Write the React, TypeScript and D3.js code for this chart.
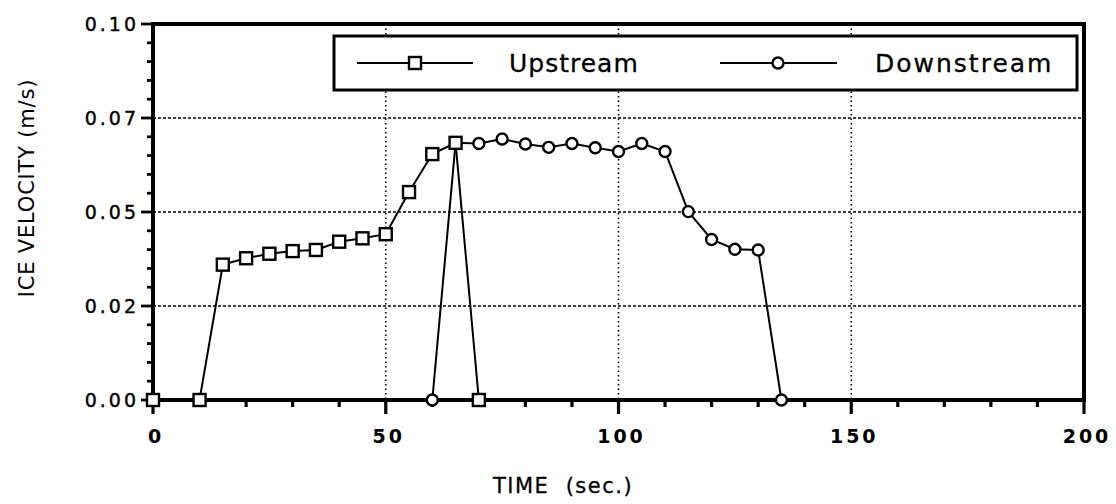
import React, { useEffect, useRef } from "react";
import * as d3 from "d3";

// time in seconds, velocity in m/s
const upTime = [0, 10, 15, 20, 25, 30, 35, 40, 45, 50, 55, 60, 65, 70];
const upVel = [0, 0, 0.036, 0.0377, 0.0389, 0.0396, 0.0399, 0.0421, 0.043, 0.0441, 0.0553, 0.0654, 0.0684, 0];

const downTime = [60, 65, 70, 75, 80, 85, 90, 95, 100, 105, 110, 115, 120, 125, 130, 135];
const downVel = [0, 0.0684, 0.0682, 0.0694, 0.0681, 0.0672, 0.0682, 0.0671, 0.0661, 0.0682, 0.0661, 0.0501, 0.0427, 0.0401, 0.0399, 0];

const xTicks = [0, 50, 100, 150, 200];
const yTicks = [0, 0.025, 0.05, 0.075, 0.1];
const yTickLabels = ["0.00", "0.02", "0.05", "0.07", "0.10"];

const FONT = "'DejaVu Sans', sans-serif";

const App = () => {
  const ref = useRef<SVGSVGElement>(null);

  useEffect(() => {
    const svg = d3.select(ref.current);
    svg.selectAll("*").remove();

    const left = 153, right = 1084, top = 24, bottom = 400;

    const x = d3.scaleLinear().domain([0, 200]).range([left, right]);
    const y = d3.scaleLinear().domain([0, 0.1]).range([bottom, top]);

    // grid lines
    svg
      .selectAll(".hgrid")
      .data(yTicks.filter((d) => d > 0 && d < 0.1))
      .enter()
      .append("line")
      .attr("x1", left)
      .attr("x2", right)
      .attr("y1", (d) => y(d))
      .attr("y2", (d) => y(d))
      .attr("stroke", "#000")
      .attr("stroke-width", 1.4)
      .attr("stroke-dasharray", "3,2");

    svg
      .selectAll(".vgrid")
      .data(xTicks.filter((d) => d > 0 && d < 200))
      .enter()
      .append("line")
      .attr("x1", (d) => x(d))
      .attr("x2", (d) => x(d))
      .attr("y1", top)
      .attr("y2", bottom)
      .attr("stroke", "#000")
      .attr("stroke-width", 1.6)
      .attr("stroke-dasharray", "1.5,3");

    // ticks
    const yMinor = d3.range(0, 0.1001, 0.005);
    svg
      .selectAll(".ytick")
      .data(yMinor)
      .enter()
      .append("line")
      .attr("x1", left)
      .attr("x2", (d, i) => (i % 5 === 0 ? left - 12 : left - 6))
      .attr("y1", (d) => y(d))
      .attr("y2", (d) => y(d))
      .attr("stroke", "#000")
      .attr("stroke-width", 2.8);

    const xMinor = d3.range(0, 201, 10);
    svg
      .selectAll(".xtick")
      .data(xMinor)
      .enter()
      .append("line")
      .attr("x1", (d) => x(d))
      .attr("x2", (d) => x(d))
      .attr("y1", bottom)
      .attr("y2", (d) => (d % 50 === 0 ? bottom + 14 : bottom + 7))
      .attr("stroke", "#000")
      .attr("stroke-width", 3.2);

    // frame
    svg
      .append("rect")
      .attr("x", left)
      .attr("y", top)
      .attr("width", right - left)
      .attr("height", bottom - top)
      .attr("fill", "none")
      .attr("stroke", "#000")
      .attr("stroke-width", 4);

    // tick labels
    svg
      .selectAll(".ylab")
      .data(yTicks)
      .enter()
      .append("text")
      .attr("x", left - 14)
      .attr("y", (d) => y(d) + 7)
      .attr("text-anchor", "end")
      .attr("font-family", FONT)
      .attr("font-size", 19)
      .attr("stroke", "#000")
      .attr("stroke-width", 0.4)
      .attr("letter-spacing", 3)
      .text((d, i) => yTickLabels[i]);

    svg
      .selectAll(".xlab")
      .data(xTicks)
      .enter()
      .append("text")
      .attr("x", (d) => x(d) + 3)
      .attr("y", bottom + 43)
      .attr("text-anchor", "middle")
      .attr("font-family", FONT)
      .attr("font-size", 19)
      .attr("font-weight", "bold")
      .attr("letter-spacing", 3)
      .text((d) => d);

    // axis titles
    svg
      .append("text")
      .attr("x", 563)
      .attr("y", 493)
      .attr("text-anchor", "middle")
      .attr("font-family", FONT)
      .attr("font-size", 21)
      .attr("stroke", "#000")
      .attr("stroke-width", 0.3)
      .attr("letter-spacing", 1.5)
      .style("white-space", "pre")
      .text("TIME  (sec.)");

    svg
      .append("text")
      .attr("transform", "translate(34, 188) rotate(-90)")
      .attr("text-anchor", "middle")
      .attr("font-family", FONT)
      .attr("font-size", 21)
      .attr("letter-spacing", 0.8)
      .text("ICE VELOCITY (m/s)");

    // series
    const drawLine = (times: number[], vals: number[]) => {
      const pts = times.map((t, i) => [x(t), y(vals[i])] as [number, number]);
      svg
        .append("path")
        .datum(pts)
        .attr("fill", "none")
        .attr("stroke", "#000")
        .attr("stroke-width", 2)
        .attr("d", d3.line());
    };

    drawLine(downTime, downVel);
    drawLine(upTime, upVel);

    svg
      .selectAll(".dmark")
      .data(downTime)
      .enter()
      .append("circle")
      .attr("cx", (d) => x(d))
      .attr("cy", (d, i) => y(downVel[i]))
      .attr("r", 5.5)
      .attr("fill", "#fff")
      .attr("stroke", "#000")
      .attr("stroke-width", 2.4);

    svg
      .selectAll(".umark")
      .data(upTime)
      .enter()
      .append("rect")
      .attr("x", (d) => x(d) - 6)
      .attr("y", (d, i) => y(upVel[i]) - 6)
      .attr("width", 12)
      .attr("height", 12)
      .attr("fill", "#fff")
      .attr("stroke", "#000")
      .attr("stroke-width", 2.4);

    // legend
    const lg = svg.append("g");
    lg.append("rect")
      .attr("x", 334)
      .attr("y", 36)
      .attr("width", 743)
      .attr("height", 54)
      .attr("fill", "#fff")
      .attr("stroke", "#000")
      .attr("stroke-width", 3);

    const ly = 63;
    lg.append("line").attr("x1", 357).attr("x2", 473).attr("y1", ly).attr("y2", ly).attr("stroke", "#000").attr("stroke-width", 2.2);
    lg.append("rect").attr("x", 409).attr("y", ly - 6).attr("width", 12).attr("height", 12).attr("fill", "#fff").attr("stroke", "#000").attr("stroke-width", 2.4);
    lg.append("text")
      .attr("x", 509)
      .attr("y", ly + 9)
      .attr("font-family", FONT)
      .attr("font-size", 25)
      .attr("stroke", "#000")
      .attr("stroke-width", 0.3)
      .attr("letter-spacing", 1)
      .text("Upstream");

    lg.append("line").attr("x1", 720).attr("x2", 837).attr("y1", ly).attr("y2", ly).attr("stroke", "#000").attr("stroke-width", 2.2);
    lg.append("circle").attr("cx", 778).attr("cy", ly).attr("r", 5.5).attr("fill", "#fff").attr("stroke", "#000").attr("stroke-width", 2.4);
    lg.append("text")
      .attr("x", 875)
      .attr("y", ly + 9)
      .attr("font-family", FONT)
      .attr("font-size", 25)
      .attr("stroke", "#000")
      .attr("stroke-width", 0.3)
      .attr("letter-spacing", 2)
      .text("Downstream");
  }, []);

  return (
    <svg
      ref={ref}
      width={1116}
      height={504}
      style={{ position: "absolute", left: 0, top: 0, background: "#fff" }}
    />
  );
};

export default App;
